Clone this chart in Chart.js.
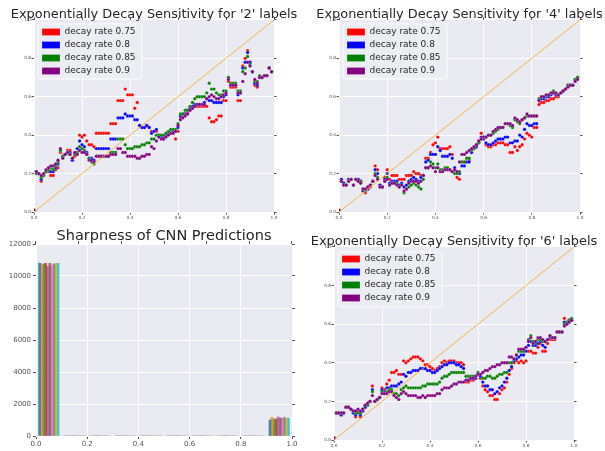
<!DOCTYPE html>
<html><head><meta charset="utf-8">
<script src="https://cdn.jsdelivr.net/npm/chart.js@4.4.1/dist/chart.umd.min.js"></script>
<style>
html,body{margin:0;padding:0;background:#fff;}
body{width:605px;height:451px;position:relative;overflow:hidden;}
canvas{position:absolute;}
</style></head><body>
<canvas id="cTL" style="left:0px;top:0px" width="308" height="225"></canvas>
<canvas id="cTR" style="left:314px;top:0px" width="291" height="225"></canvas>
<canvas id="cBL" style="left:0px;top:225px" width="328" height="226"></canvas>
<canvas id="cBR" style="left:308px;top:225px" width="292" height="226"></canvas>
<script>
// ---------- DATA ----------
const seriesLabels = ['decay rate 0.75','decay rate 0.8','decay rate 0.85','decay rate 0.9'];
const seriesColors = ['#ff0000','#0000ff','#008000','#800080'];

const xs = [0.00,0.01,0.02,0.03,0.04,0.05,0.06,0.07,0.08,0.09,
0.10,0.11,0.12,0.13,0.14,0.15,0.16,0.17,0.18,0.19,
0.20,0.21,0.22,0.23,0.24,0.25,0.26,0.27,0.28,0.29,
0.30,0.31,0.32,0.33,0.34,0.35,0.36,0.37,0.38,0.39,
0.40,0.41,0.42,0.43,0.44,0.45,0.46,0.47,0.48,0.49,
0.50,0.51,0.52,0.53,0.54,0.55,0.56,0.57,0.58,0.59,
0.60,0.61,0.62,0.63,0.64,0.65,0.66,0.67,0.68,0.69,
0.70,0.71,0.72,0.73,0.74,0.75,0.76,0.77,0.78,0.79,
0.80,0.81,0.82,0.83,0.84,0.85,0.86,0.87,0.88,0.89,
0.90,0.91,0.92,0.93,0.94,0.95,0.96,0.97,0.98,0.99];

// '2' labels
const l2_r075 = [0.01,0.21,0.20,0.16,0.19,0.21,0.21,0.19,0.19,0.22, 0.23,0.31,0.29,0.30,0.32,0.32,0.27,0.29,0.31,0.40, 0.39,0.40,0.37,0.35,0.35,0.34,0.41,0.41,0.41,0.41, 0.41,0.41,0.46,0.46,0.46,0.58,0.58,0.58,0.64,0.61, 0.61,0.61,0.54,0.57,0.45,0.44,0.44,0.45,0.44,0.42, 0.42,0.42,0.40,0.39,0.38,0.40,0.41,0.41,0.41,0.38, 0.42,0.49,0.50,0.51,0.52,0.53,0.54,0.55,0.55,0.55, 0.55,0.55,0.55,0.49,0.47,0.47,0.48,0.50,0.50,0.58, 0.58,0.68,0.65,0.65,0.65,0.58,0.58,0.76,0.80,0.84, 0.78,0.73,0.66,0.65,0.70,0.70,0.71,0.71,0.75,0.73];
const l2_r080 = [0.01,0.21,0.20,0.17,0.19,0.21,0.22,0.21,0.21,0.23, 0.25,0.32,0.29,0.30,0.31,0.31,0.27,0.30,0.33,0.37, 0.35,0.34,0.31,0.28,0.28,0.27,0.33,0.33,0.33,0.33, 0.33,0.33,0.38,0.38,0.38,0.49,0.49,0.49,0.51,0.50, 0.50,0.50,0.48,0.48,0.45,0.44,0.44,0.45,0.44,0.41, 0.42,0.43,0.40,0.39,0.39,0.40,0.41,0.41,0.42,0.42, 0.44,0.50,0.51,0.51,0.53,0.54,0.55,0.56,0.56,0.56, 0.56,0.57,0.59,0.58,0.58,0.57,0.57,0.57,0.57,0.60, 0.61,0.70,0.66,0.66,0.66,0.61,0.62,0.75,0.78,0.83, 0.78,0.73,0.67,0.66,0.70,0.70,0.71,0.71,0.75,0.73];
const l2_r085 = [0.01,0.20,0.20,0.18,0.19,0.21,0.22,0.23,0.22,0.24, 0.26,0.32,0.29,0.30,0.31,0.30,0.28,0.30,0.31,0.34, 0.33,0.32,0.30,0.28,0.26,0.25,0.29,0.29,0.29,0.29, 0.29,0.29,0.31,0.31,0.31,0.38,0.38,0.38,0.35,0.33, 0.33,0.33,0.34,0.34,0.34,0.35,0.35,0.36,0.36,0.38, 0.38,0.40,0.40,0.40,0.40,0.41,0.42,0.43,0.43,0.43, 0.46,0.51,0.51,0.53,0.53,0.55,0.57,0.59,0.60,0.60, 0.60,0.60,0.62,0.67,0.64,0.64,0.62,0.61,0.61,0.63, 0.63,0.70,0.67,0.67,0.67,0.63,0.63,0.73,0.75,0.81, 0.77,0.73,0.68,0.68,0.71,0.70,0.71,0.71,0.75,0.73];
const l2_r090 = [0.01,0.21,0.20,0.19,0.20,0.22,0.23,0.24,0.24,0.25, 0.27,0.33,0.28,0.30,0.31,0.30,0.28,0.31,0.30,0.32, 0.31,0.31,0.30,0.27,0.27,0.26,0.29,0.29,0.29,0.29, 0.29,0.29,0.30,0.30,0.30,0.33,0.33,0.31,0.31,0.29, 0.29,0.29,0.29,0.28,0.28,0.29,0.29,0.30,0.30,0.34, 0.33,0.37,0.39,0.38,0.38,0.39,0.40,0.41,0.41,0.42, 0.45,0.48,0.49,0.50,0.51,0.53,0.54,0.55,0.56,0.56, 0.56,0.56,0.59,0.60,0.61,0.60,0.59,0.59,0.60,0.61, 0.62,0.69,0.66,0.66,0.66,0.62,0.62,0.68,0.72,0.78, 0.76,0.73,0.69,0.67,0.70,0.70,0.71,0.71,0.75,0.73];

// '4' labels
const l4_r075 = [0.01,0.17,0.15,0.14,0.17,0.17,0.14,0.17,0.17,0.16, 0.11,0.10,0.12,0.13,0.16,0.24,0.22,0.14,0.13,0.18, 0.22,0.17,0.19,0.19,0.19,0.17,0.17,0.17,0.19,0.19, 0.19,0.21,0.20,0.20,0.19,0.19,0.28,0.28,0.31,0.35, 0.36,0.39,0.33,0.33,0.33,0.33,0.34,0.30,0.22,0.18, 0.17,0.26,0.26,0.28,0.27,0.31,0.33,0.34,0.37,0.41, 0.39,0.35,0.34,0.34,0.35,0.35,0.36,0.36,0.36,0.35, 0.35,0.31,0.31,0.34,0.32,0.34,0.35,0.38,0.41,0.40, 0.39,0.44,0.44,0.56,0.57,0.57,0.58,0.58,0.59,0.59, 0.60,0.60,0.62,0.63,0.64,0.66,0.66,0.66,0.69,0.70];
const l4_r080 = [0.01,0.17,0.15,0.14,0.17,0.17,0.14,0.17,0.17,0.16, 0.11,0.11,0.12,0.14,0.16,0.22,0.20,0.14,0.13,0.17, 0.20,0.15,0.16,0.16,0.16,0.14,0.15,0.13,0.14,0.16, 0.17,0.18,0.17,0.16,0.18,0.19,0.26,0.27,0.30,0.30, 0.30,0.34,0.32,0.29,0.29,0.29,0.30,0.28,0.23,0.21, 0.20,0.24,0.24,0.26,0.26,0.31,0.33,0.34,0.36,0.39, 0.38,0.36,0.35,0.35,0.36,0.37,0.38,0.38,0.38,0.39, 0.39,0.36,0.36,0.37,0.37,0.40,0.39,0.43,0.46,0.45, 0.45,0.46,0.46,0.58,0.59,0.59,0.60,0.60,0.61,0.62, 0.61,0.61,0.62,0.63,0.64,0.66,0.66,0.66,0.69,0.70];
const l4_r085 = [0.01,0.16,0.14,0.14,0.16,0.17,0.14,0.17,0.16,0.16, 0.12,0.11,0.13,0.14,0.16,0.20,0.18,0.13,0.13,0.16, 0.18,0.14,0.15,0.15,0.15,0.13,0.14,0.10,0.12,0.13, 0.14,0.15,0.14,0.13,0.12,0.17,0.23,0.23,0.26,0.25, 0.23,0.25,0.22,0.22,0.23,0.23,0.22,0.21,0.20,0.20, 0.21,0.26,0.26,0.28,0.28,0.32,0.33,0.35,0.36,0.38, 0.39,0.39,0.40,0.40,0.41,0.42,0.43,0.44,0.44,0.46, 0.46,0.45,0.44,0.48,0.47,0.46,0.48,0.49,0.50,0.50, 0.50,0.50,0.50,0.59,0.60,0.60,0.61,0.61,0.62,0.63, 0.62,0.61,0.62,0.63,0.64,0.66,0.66,0.66,0.69,0.70];
const l4_r090 = [0.01,0.16,0.14,0.14,0.16,0.17,0.14,0.17,0.16,0.15, 0.12,0.12,0.13,0.14,0.16,0.19,0.17,0.13,0.13,0.16, 0.17,0.14,0.15,0.15,0.14,0.13,0.14,0.11,0.12,0.15, 0.16,0.16,0.16,0.15,0.16,0.19,0.23,0.23,0.24,0.23, 0.21,0.23,0.21,0.21,0.22,0.22,0.22,0.21,0.22,0.21, 0.26,0.30,0.30,0.31,0.32,0.33,0.34,0.35,0.37,0.38, 0.39,0.39,0.40,0.40,0.42,0.43,0.44,0.44,0.44,0.46, 0.46,0.46,0.45,0.49,0.48,0.47,0.48,0.49,0.51,0.50, 0.50,0.50,0.50,0.58,0.60,0.60,0.61,0.61,0.62,0.62, 0.62,0.61,0.62,0.63,0.64,0.65,0.66,0.66,0.68,0.69];

// '6' labels
const l6_r075 = [0.01,0.14,0.14,0.13,0.14,0.17,0.17,0.16,0.15,0.12, 0.15,0.12,0.15,0.17,0.19,0.20,0.28,0.20,0.21,0.22, 0.27,0.26,0.29,0.31,0.35,0.35,0.36,0.34,0.34,0.41, 0.40,0.41,0.42,0.43,0.43,0.43,0.42,0.41,0.39,0.39, 0.38,0.37,0.36,0.37,0.38,0.40,0.41,0.40,0.41,0.41, 0.41,0.40,0.40,0.40,0.39,0.30,0.30,0.31,0.31,0.32, 0.34,0.32,0.28,0.26,0.25,0.23,0.23,0.21,0.21,0.24, 0.26,0.27,0.30,0.34,0.37,0.40,0.41,0.40,0.41,0.40, 0.41,0.46,0.46,0.45,0.45,0.48,0.50,0.46,0.46,0.50, 0.52,0.52,0.52,0.56,0.56,0.56,0.63,0.61,0.62,0.62];
const l6_r080 = [0.01,0.14,0.14,0.13,0.14,0.17,0.17,0.16,0.14,0.13, 0.15,0.13,0.15,0.17,0.18,0.20,0.26,0.20,0.21,0.22, 0.26,0.25,0.27,0.27,0.28,0.28,0.28,0.29,0.30,0.34, 0.33,0.35,0.35,0.36,0.36,0.36,0.37,0.37,0.37,0.36, 0.36,0.35,0.35,0.36,0.37,0.38,0.39,0.39,0.40,0.40, 0.40,0.39,0.39,0.38,0.37,0.31,0.31,0.32,0.32,0.32, 0.34,0.33,0.30,0.28,0.28,0.26,0.26,0.24,0.25,0.27, 0.28,0.30,0.32,0.36,0.38,0.41,0.42,0.43,0.44,0.44, 0.46,0.49,0.51,0.49,0.49,0.50,0.51,0.49,0.48,0.52, 0.53,0.53,0.53,0.56,0.56,0.56,0.61,0.60,0.62,0.62];
const l6_r085 = [0.01,0.14,0.14,0.14,0.14,0.17,0.17,0.16,0.15,0.14, 0.14,0.14,0.16,0.18,0.18,0.20,0.25,0.20,0.21,0.22, 0.25,0.24,0.25,0.26,0.26,0.24,0.24,0.23,0.26,0.27, 0.28,0.27,0.27,0.27,0.27,0.27,0.27,0.28,0.28,0.29, 0.29,0.29,0.29,0.29,0.30,0.32,0.33,0.33,0.34,0.35, 0.35,0.35,0.35,0.35,0.35,0.33,0.33,0.33,0.33,0.33, 0.35,0.34,0.32,0.32,0.33,0.33,0.32,0.32,0.33,0.34, 0.34,0.35,0.35,0.40,0.40,0.42,0.44,0.46,0.46,0.46, 0.48,0.52,0.54,0.51,0.50,0.52,0.52,0.51,0.51,0.52, 0.54,0.53,0.53,0.56,0.56,0.56,0.60,0.61,0.62,0.63];
const l6_r090 = [0.01,0.14,0.14,0.14,0.14,0.17,0.17,0.16,0.15,0.15, 0.16,0.15,0.16,0.18,0.19,0.20,0.23,0.20,0.21,0.22, 0.24,0.24,0.24,0.25,0.25,0.23,0.22,0.21,0.24,0.25, 0.24,0.23,0.23,0.23,0.23,0.22,0.22,0.23,0.22,0.23, 0.23,0.23,0.23,0.24,0.24,0.26,0.27,0.27,0.27,0.28, 0.29,0.29,0.30,0.30,0.30,0.31,0.31,0.32,0.32,0.33, 0.34,0.34,0.35,0.36,0.36,0.37,0.38,0.38,0.39,0.39, 0.40,0.40,0.40,0.43,0.43,0.42,0.44,0.47,0.47,0.47, 0.48,0.51,0.53,0.50,0.51,0.53,0.53,0.52,0.51,0.52, 0.54,0.53,0.53,0.56,0.56,0.56,0.59,0.60,0.61,0.62];

// reference diagonal y = x
const diagX = [0, 1];
const diagY = [0, 1];

// histogram: 10 classes x 10 bins
const binCenters = [0.05,0.15,0.25,0.35,0.45,0.55,0.65,0.75,0.85,0.95];
const histCounts = [
  [10800,0,0,0,0,0,0,0,0,1000],
  [10750,0,0,0,0,0,0,0,0,1160],
  [10750,0,0,0,0,0,0,0,0,1060],
  [10790,0,0,0,0,0,0,0,0,1060],
  [10600,0,0,0,0,0,0,0,0,1190],
  [10790,0,0,0,0,0,0,0,0,1120],
  [10650,0,0,0,0,0,0,0,0,1120],
  [10760,0,0,0,0,0,0,0,0,1160],
  [10790,0,0,0,0,0,0,0,0,1120],
  [10790,0,0,0,0,0,0,0,0,1110]
];
const histColors = ['rgba(31,119,180,0.85)','rgba(255,127,14,0.85)','rgba(44,160,44,0.85)','rgba(214,39,40,0.85)','rgba(148,103,189,0.85)','rgba(140,86,75,0.85)','rgba(227,119,194,0.85)','rgba(127,127,127,0.85)','rgba(188,189,34,0.85)','rgba(23,190,207,0.85)'];

const unitTicks = [0,0.2,0.4,0.6,0.8,1.0];
const histYTicks = [0,2000,4000,6000,8000,10000,12000];

// ---------- HELPERS ----------
const FONT = 'DejaVu Sans, Liberation Sans, sans-serif';
const TICK_COLOR = '#555555';

const bgPlugin = {
  id: 'plotBg',
  beforeDraw(chart) {
    const {ctx, chartArea: a} = chart;
    ctx.save();
    ctx.fillStyle = '#EAEAF2';
    ctx.fillRect(a.left, a.top, a.right - a.left, a.bottom - a.top);
    ctx.restore();
  }
};

const legendFramePlugin = {
  id: 'legendFrame',
  afterLayout(chart, args, opts) {
    const lg = chart.legend;
    if (!lg) return;
    const a = chart.chartArea;
    lg.left = a.left + opts.dx;
    lg.top = a.top + opts.dy;
    if (!lg._framed) {
      const orig = lg.draw.bind(lg);
      lg.draw = function (ca) {
        const ctx = chart.ctx;
        const ar = chart.chartArea;
        ctx.save();
        ctx.beginPath();
        const x = ar.left + opts.fx, y = ar.top + opts.fy, w = opts.fw, h = opts.fh, r = 2;
        ctx.moveTo(x + r, y);
        ctx.arcTo(x + w, y, x + w, y + h, r);
        ctx.arcTo(x + w, y + h, x, y + h, r);
        ctx.arcTo(x, y + h, x, y, r);
        ctx.arcTo(x, y, x + w, y, r);
        ctx.closePath();
        ctx.fillStyle = 'rgba(236,236,243,0.9)';
        ctx.fill();
        ctx.strokeStyle = 'rgba(255,255,255,0.95)';
        ctx.lineWidth = 1;
        ctx.stroke();
        ctx.restore();
        orig(ca);
      };
      lg._framed = true;
    }
  }
};

function sideScales(g, xStep, yMin, yMax, yStep, tl) {
  return {
    x2: {
      type: 'linear', position: 'top', min: 0, max: 1,
      ticks: {display: false, stepSize: xStep},
      grid: {drawOnChartArea: false, tickColor: TICK_COLOR, tickLength: tl, drawTicks: true},
      border: {display: false},
      afterFit: s => { s.height = 0; }
    },
    y2: {
      type: 'linear', position: 'right', min: yMin, max: yMax,
      ticks: {display: false, stepSize: yStep},
      grid: {drawOnChartArea: false, tickColor: TICK_COLOR, tickLength: tl, drawTicks: true},
      border: {display: false},
      afterFit: s => { s.width = g.right; }
    }
  };
}

function makeScatter(id, titleText, seriesArr, g) {
  const datasets = seriesArr.map((vals, i) => ({
    label: seriesLabels[i],
    data: xs.map((x, k) => ({x: x, y: vals[k]})),
    backgroundColor: seriesColors[i],
    borderColor: seriesColors[i],
    borderWidth: 0,
    pointBackgroundColor: seriesColors[i],
    pointBorderColor: 'rgba(255,255,255,0.55)',
    pointBorderWidth: 0.4,
    pointRadius: 1.7,
    showLine: false,
    order: 4 - i
  }));
  datasets.push({
    type: 'line',
    label: '',
    data: diagX.map((x, k) => ({x: x, y: diagY[k]})),
    borderColor: 'rgba(255,170,40,0.9)',
    borderWidth: 1,
    pointRadius: 0,
    showLine: true,
    fill: false,
    order: 0
  });
  const scales = Object.assign({
    x: {
      type: 'linear', position: 'bottom', min: 0, max: 1,
      afterBuildTicks: s => { s.ticks = unitTicks.map(v => ({value: v})); },
      ticks: {font: {family: FONT, size: 4.3}, color: TICK_COLOR, padding: 1, maxRotation: 0, autoSkip: false,
              callback: v => Number(v).toFixed(1)},
      grid: {color: '#ffffff', lineWidth: 1, tickColor: TICK_COLOR, tickLength: 2.5},
      border: {display: false},
      afterFit: s => { s.height = g.bottom; }
    },
    y: {
      type: 'linear', position: 'left', min: 0, max: 1,
      afterBuildTicks: s => { s.ticks = unitTicks.map(v => ({value: v})); },
      ticks: {font: {family: FONT, size: 4.3}, color: TICK_COLOR, padding: 0.5, autoSkip: false,
              callback: v => Number(v).toFixed(1)},
      grid: {color: '#ffffff', lineWidth: 1, tickColor: TICK_COLOR, tickLength: 2.5},
      border: {display: false},
      afterFit: s => { s.width = g.left; }
    }
  }, sideScales(g, 0.2, 0, 1, 0.2, 2.5));
  return new Chart(document.getElementById(id), {
    type: 'scatter',
    data: {datasets},
    plugins: [bgPlugin, legendFramePlugin],
    options: {
      responsive: false, animation: false, devicePixelRatio: 1, events: [],
      layout: {padding: 0},
      scales,
      plugins: {
        tooltip: {enabled: false},
        title: {display: true, text: titleText, color: '#262626',
                font: {family: FONT, size: 12.9, weight: 'normal', lineHeight: g.tlh},
                padding: {top: g.tpad, bottom: 0}},
        legend: {
          display: true, position: 'chartArea', align: 'start',
          labels: {
            boxWidth: 18, boxHeight: 7, padding: 4, color: '#262626',
            font: {family: FONT, size: 9},
            filter: item => item.datasetIndex < 4,
            sort: (a, b) => a.datasetIndex - b.datasetIndex
          }
        },
        legendFrame: {dx: 4, dy: 3.5, fx: 4, fy: g.fy, fw: 104, fh: 55}
      }
    }
  });
}

// ---------- CHARTS ----------
makeScatter('cTL', "Exponentially Decay Sensitivity for '2' labels",
  [l2_r075, l2_r080, l2_r085, l2_r090],
  {left: 34, right: 34, bottom: 13, tpad: 10, tlh: 0.77, fy: 4});
makeScatter('cTR', "Exponentially Decay Sensitivity for '4' labels",
  [l4_r075, l4_r080, l4_r085, l4_r090],
  {left: 25, right: 25, bottom: 13, tpad: 10, tlh: 0.77, fy: 4});
makeScatter('cBR', "Exponentially Decay Sensitivity for '6' labels",
  [l6_r075, l6_r080, l6_r085, l6_r090],
  {left: 26, right: 26, bottom: 11, tpad: 12, tlh: 0.77, fy: 5});

// Histogram
(function () {
  const g = {left: 36, right: 36, bottom: 15};
  const nClass = histCounts.length;
  const groupWidth = 0.08; // 80% of a 0.1-wide bin
  const datasets = histCounts.map((counts, i) => ({
    label: String(i),
    data: binCenters.map((c, j) => ({x: c - groupWidth / 2 + groupWidth / nClass * (i + 0.5), y: counts[j]})),
    backgroundColor: histColors[i],
    borderWidth: 0,
    barThickness: 2,
    grouped: false
  }));
  const scales = Object.assign({
    x: {
      type: 'linear', position: 'bottom', min: 0, max: 1, offset: false,
      afterBuildTicks: s => { s.ticks = unitTicks.map(v => ({value: v})); },
      ticks: {font: {family: FONT, size: 7}, color: TICK_COLOR, padding: 0.5, maxRotation: 0, autoSkip: false,
              callback: v => Number(v).toFixed(1)},
      grid: {color: '#ffffff', lineWidth: 1, tickColor: TICK_COLOR, tickLength: 3, offset: false},
      border: {display: false},
      afterFit: s => { s.height = g.bottom; }
    },
    y: {
      type: 'linear', position: 'left', min: 0, max: 12000,
      afterBuildTicks: s => { s.ticks = histYTicks.map(v => ({value: v})); },
      ticks: {font: {family: FONT, size: 7}, color: TICK_COLOR, padding: 2, autoSkip: false,
              callback: v => String(v)},
      grid: {color: '#ffffff', lineWidth: 1, tickColor: TICK_COLOR, tickLength: 3},
      border: {display: false},
      afterFit: s => { s.width = g.left; }
    }
  }, sideScales(g, 0.2, 0, 12000, 2000, 3));
  new Chart(document.getElementById('cBL'), {
    type: 'bar',
    data: {datasets},
    plugins: [bgPlugin],
    options: {
      responsive: false, animation: false, devicePixelRatio: 1, events: [],
      layout: {padding: 0},
      scales,
      plugins: {
        tooltip: {enabled: false},
        legend: {display: false},
        title: {display: true, text: 'Sharpness of CNN Predictions', color: '#262626',
                font: {family: FONT, size: 14.5, weight: 'normal', lineHeight: 15 / 14.5},
                padding: {top: 4, bottom: 0}}
      }
    }
  });
})();
</script>
</body></html>
